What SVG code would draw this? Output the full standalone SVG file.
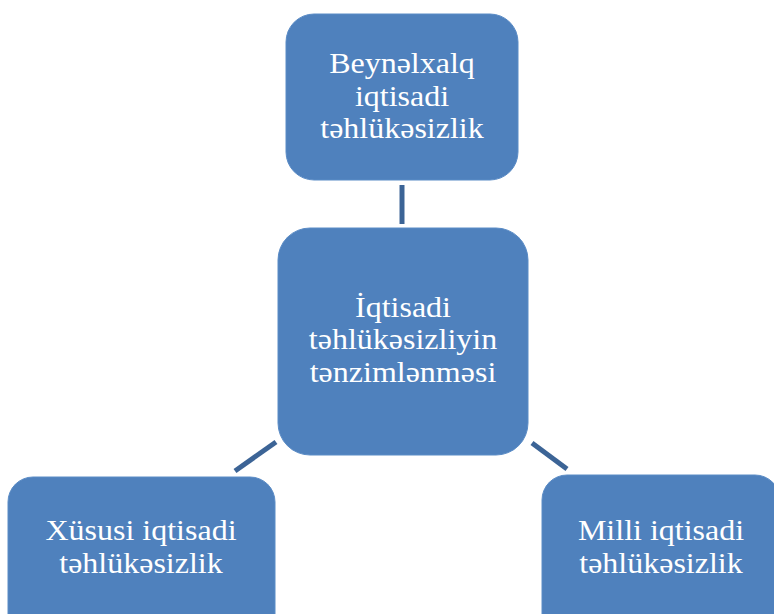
<svg xmlns="http://www.w3.org/2000/svg" width="774" height="614" viewBox="0 0 774 614">
<style>
.node{fill:#4F81BD;stroke:#5B8CC6;stroke-width:1}
.lbl{font-family:"Liberation Serif","Times New Roman",serif;font-size:29.5px;fill:#FFFFFF;text-anchor:middle}
.conn{stroke:#3C6496;stroke-width:5;fill:none}
</style>
<rect width="774" height="614" fill="#FFFFFF"/>
<g id="connectors">
<line class="conn" x1="402" y1="185" x2="402" y2="224"/>
<line class="conn" x1="276" y1="442" x2="235" y2="471"/>
<line class="conn" x1="532" y1="443" x2="567" y2="469"/>
</g>
<g id="node-top">
<rect class="node" x="286" y="14" width="232" height="166" rx="28" ry="28"/>
<text class="lbl" transform="translate(402 73) scale(1.085 1)">Beynəlxalq</text>
<text class="lbl" transform="translate(402 106) scale(1.085 1)">iqtisadi</text>
<text class="lbl" transform="translate(402 138) scale(1.085 1)">təhlükəsizlik</text>
</g>
<g id="node-center">
<rect class="node" x="278" y="228" width="250" height="227" rx="32" ry="32"/>
<text class="lbl" transform="translate(403 317) scale(1.085 1)">İqtisadi</text>
<text class="lbl" transform="translate(403 349) scale(1.085 1)">təhlükəsizliyin</text>
<text class="lbl" transform="translate(403 382) scale(1.085 1)">tənzimlənməsi</text>
</g>
<g id="node-left">
<rect class="node" x="8" y="477" width="267" height="170" rx="25" ry="25"/>
<text class="lbl" transform="translate(141 540) scale(1.085 1)">Xüsusi iqtisadi</text>
<text class="lbl" transform="translate(141 573) scale(1.085 1)">təhlükəsizlik</text>
</g>
<g id="node-right">
<rect class="node" x="542" y="475" width="238" height="170" rx="25" ry="25"/>
<text class="lbl" transform="translate(661 540) scale(1.085 1)">Milli iqtisadi</text>
<text class="lbl" transform="translate(661 573) scale(1.085 1)">təhlükəsizlik</text>
</g>
</svg>
